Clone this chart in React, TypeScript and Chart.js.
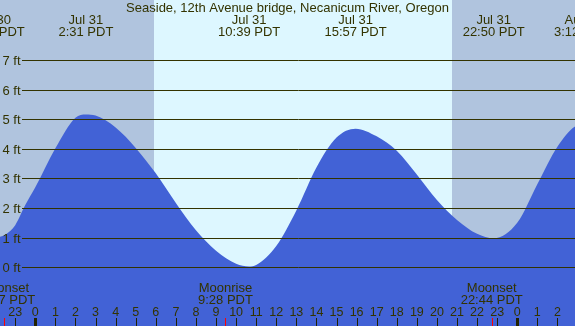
import React, { useEffect, useRef } from "react";
import { Chart, registerables } from "chart.js";

Chart.register(...registerables);

// ---- data ----
const chartTitle = "Seaside, 12th Avenue bridge, Necanicum River, Oregon";

// tide curve: hours since Jul 31 00:00 PDT, height in feet
const tideHours = [
  -2.07, -1.5, -1, -0.5, 0, 1, 2, 2.52, 3, 4, 5, 6, 7, 8, 9, 10, 10.65, 11, 12, 13,
  14, 15, 15.95, 17, 18, 19, 20, 21, 22, 22.83, 24, 25, 26, 27, 27.2,
];
const tideFeet = [
  0.99, 1.1, 1.42, 2.1, 2.7, 4.02, 5.05, 5.16, 5.12, 4.72, 4.03, 3.17, 2.17, 1.25,
  0.56, 0.12, 0.03, 0.08, 0.72, 1.92, 3.37, 4.38, 4.68, 4.42, 3.93, 3.13, 2.27,
  1.6, 1.13, 0.98, 1.5, 2.8, 4.07, 4.8, 4.82,
];

const feetTicks = [0, 1, 2, 3, 4, 5, 6, 7];

const hourTicks = [
  -1, 0, 1, 2, 3, 4, 5, 6, 7, 8, 9, 10, 11, 12, 13, 14, 15, 16, 17, 18, 19, 20,
  21, 22, 23, 24, 25, 26,
];
const hourLabels = [
  "23", "0", "1", "2", "3", "4", "5", "6", "7", "8", "9", "10", "11", "12", "13",
  "14", "15", "16", "17", "18", "19", "20", "21", "22", "23", "0", "1", "2",
];
const midnightHours = [0, 24];

const sunriseHour = 5.92;
const sunsetHour = 20.75;

const tideEventHours = [-2.07, 2.52, 10.65, 15.95, 22.83, 27.2];
const tideEventDates = ["Jul 30", "Jul 31", "Jul 31", "Jul 31", "Jul 31", "Aug 1"];
const tideEventTimes = ["21:56 PDT", "2:31 PDT", "10:39 PDT", "15:57 PDT", "22:50 PDT", "3:12 PDT"];

const moonEventHours = [-1.55, 9.47, 22.73];
const moonEventNames = ["Moonset", "Moonrise", "Moonset"];
const moonEventTimes = ["22:27 PDT", "9:28 PDT", "22:44 PDT"];

// ---- styling ----
const NIGHT = "#B0C4DE";
const DAY = "#DDF7FF";
const FILL = "#4262D6";
const INK = "#333300";
const FONT = '13px "Liberation Sans", Arial, sans-serif';
const HOUR_FONT = '12.5px "Liberation Sans", Arial, sans-serif';

const X_MIN = -1.758;
const X_MAX = 26.877;
const Y_MIN = -1.981;
const Y_MAX = 9.021;

const decorPlugin = {
  id: "tideDecor",
  beforeDatasetsDraw(chart: any) {
    const { ctx, chartArea: a, scales } = chart;
    const x = scales.x;
    ctx.save();
    ctx.fillStyle = NIGHT;
    ctx.fillRect(a.left, a.top, a.right - a.left, a.bottom - a.top);
    const x1 = Math.round(x.getPixelForValue(sunriseHour));
    const x2 = Math.round(x.getPixelForValue(sunsetHour));
    ctx.fillStyle = DAY;
    ctx.fillRect(x1, a.top, x2 - x1, a.bottom - a.top);
    ctx.restore();
  },
  afterDatasetsDraw(chart: any) {
    const { ctx, chartArea: a, scales } = chart;
    const x = scales.x;
    const y = scales.y;
    ctx.save();

    // horizontal grid lines + ft labels
    ctx.strokeStyle = INK;
    ctx.lineWidth = 1;
    ctx.font = FONT;
    ctx.fillStyle = INK;
    ctx.textAlign = "left";
    ctx.textBaseline = "alphabetic";
    feetTicks.forEach((v) => {
      const py = Math.round(y.getPixelForValue(v)) + 0.5;
      ctx.beginPath();
      ctx.moveTo(22, py);
      ctx.lineTo(a.right, py);
      ctx.stroke();
      ctx.fillText(`${v} ft`, 2.5, py + 4.5);
    });

    // title
    ctx.textAlign = "center";
    ctx.fillText(chartTitle, (a.left + a.right) / 2, 12);

    // tide event labels
    tideEventHours.forEach((h, i) => {
      const px = x.getPixelForValue(h);
      ctx.fillText(tideEventDates[i], px, 24);
      ctx.fillText(tideEventTimes[i], px, 36);
    });

    // moon event labels
    moonEventHours.forEach((h, i) => {
      const px = x.getPixelForValue(h);
      ctx.fillText(moonEventNames[i], px, 291.5);
      ctx.fillText(moonEventTimes[i], px, 304.3);
    });

    // hour ticks and labels
    ctx.font = HOUR_FONT;
    hourTicks.forEach((h, i) => {
      const px = x.getPixelForValue(h);
      const col = Math.round(px);
      ctx.fillStyle = "#222200";
      if (midnightHours.includes(h)) {
        ctx.fillRect(col - 1, 318, 3, 8);
      } else {
        ctx.fillRect(col, 318, 1, 8);
      }
      ctx.fillStyle = INK;
      ctx.fillText(hourLabels[i], px, 315.7);
    });

    // moon event ticks
    ctx.fillStyle = "#FF0000";
    moonEventHours.forEach((h) => {
      const col = Math.round(x.getPixelForValue(h));
      ctx.fillRect(col, 318, 1, 8);
    });

    ctx.restore();
  },
};

export default function App() {
  const canvasRef = useRef<HTMLCanvasElement | null>(null);

  useEffect(() => {
    document.body.style.margin = "0";
    const canvas = canvasRef.current;
    if (!canvas) return;
    const chart = new Chart(canvas, {
      type: "line",
      data: {
        datasets: [
          {
            data: tideHours.map((h, i) => ({ x: h, y: tideFeet[i] })),
            fill: "start",
            backgroundColor: FILL,
            borderColor: FILL,
            borderWidth: 0,
            pointRadius: 0,
            cubicInterpolationMode: "monotone",
          } as any,
        ],
      },
      options: {
        animation: false,
        responsive: false,
        layout: { padding: 0 },
        events: [],
        scales: {
          x: { type: "linear", min: X_MIN, max: X_MAX, display: false },
          y: { type: "linear", min: Y_MIN, max: Y_MAX, display: false },
        },
        plugins: {
          legend: { display: false },
          tooltip: { enabled: false },
        },
      },
      plugins: [decorPlugin],
    });
    return () => chart.destroy();
  }, []);

  return (
    <div style={{ position: "absolute", left: 0, top: 0, width: 575, height: 326 }}>
      <canvas ref={canvasRef} width={575} height={326} style={{ display: "block" }} />
    </div>
  );
}
